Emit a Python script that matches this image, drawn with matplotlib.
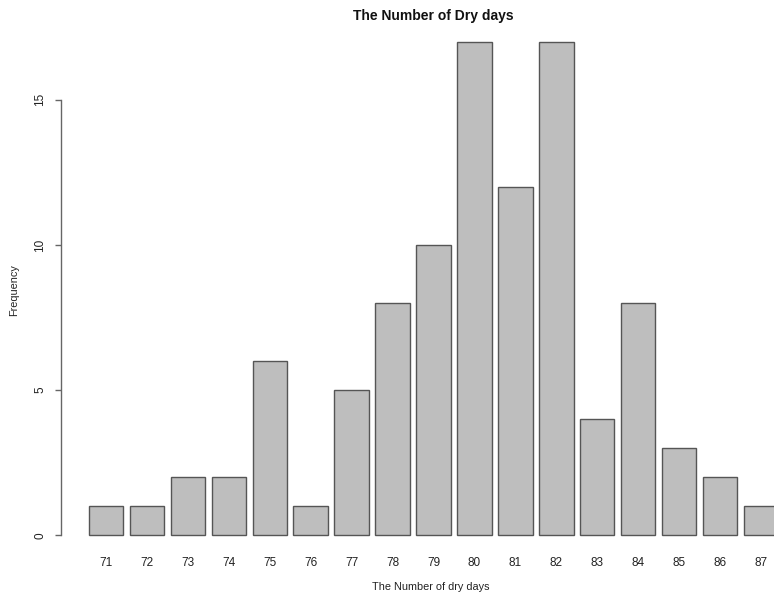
import matplotlib
matplotlib.use("Agg")
import matplotlib.pyplot as plt
import numpy as np

# Dry-day counts and how often each occurred
days = [71, 72, 73, 74, 75, 76, 77, 78, 79, 80, 81, 82, 83, 84, 85, 86, 87]
frequency = [1, 1, 2, 2, 6, 1, 5, 8, 10, 17, 12, 17, 4, 8, 3, 2, 1]
y_ticks = [0, 5, 10, 15]

plt.rcParams["font.family"] = ["Liberation Sans", "DejaVu Sans"]

W, H = 774, 594
fig = plt.figure(figsize=(W / 100, H / 100), dpi=100)

# plot region in pixels (left, top, right, bottom); right edge runs past the canvas
L, T, R, B = 61, 22, 806, 555
ax = fig.add_axes([L / W, 1 - B / H, (R - L) / W, (B - T) / H])

# barplot layout: unit-width bars separated by 0.2 gaps
n = len(days)
lefts = 0.2 + 1.2 * np.arange(n)
centers = lefts + 0.5
ax.bar(centers, frequency, width=1.0, color="#BEBEBE",
       edgecolor="#555555", linewidth=1.0)

x_lo, x_hi = 0.2, 0.2 + 1.2 * (n - 1) + 1.0
x_pad = 0.04 * (x_hi - x_lo)
ax.set_xlim(x_lo - x_pad, x_hi + x_pad)
y_hi = max(frequency)
ax.set_ylim(-0.04 * y_hi, y_hi * 1.04)

for side in ("top", "right", "bottom"):
    ax.spines[side].set_visible(False)
ax.spines["left"].set_bounds(0, 15)
ax.spines["left"].set_color("#666666")
ax.spines["left"].set_linewidth(1.0)

ax.set_yticks(y_ticks)
ax.set_yticklabels([str(v) for v in y_ticks], rotation=90, va="center")
ax.tick_params(axis="y", length=4.5, width=1.0, color="#666666",
               pad=6, labelsize=8.5, labelcolor="#222222")

ax.set_xticks(centers)
ax.set_xticklabels([str(d) for d in days])
ax.tick_params(axis="x", length=0, pad=1.5, labelsize=8.5, labelcolor="#222222")

fig.text(433 / W, 1 - 16 / H, "The Number of Dry days", ha="center",
         va="center", fontsize=10, fontweight="bold", color="#111111")
fig.text(431 / W, 1 - 587 / H, "The Number of dry days", ha="center",
         va="center", fontsize=7.8, color="#222222")
fig.text(14 / W, 1 - 290 / H, "Frequency", ha="center", va="center",
         rotation=90, fontsize=7.8, color="#222222")

fig.savefig("out.png", dpi=100)
